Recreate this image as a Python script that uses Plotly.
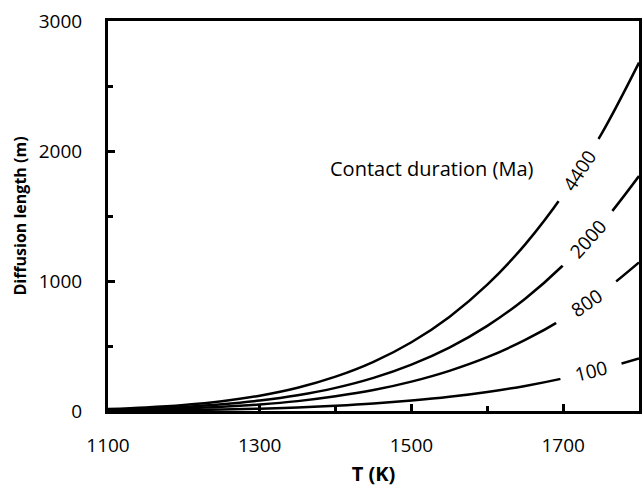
import plotly.graph_objects as go

# Temperature (K)
T = [1100, 1150, 1200, 1250, 1300, 1350, 1400, 1450, 1500, 1550, 1600, 1650, 1700, 1750, 1800]

# Diffusion length (m) for each contact duration (Ma)
L_4400 = [15, 27, 46, 75, 118, 179, 264, 378, 529, 724, 972, 1282, 1663, 2126, 2680]
L_2000 = [10, 18, 31, 51, 80, 121, 178, 255, 357, 488, 655, 864, 1121, 1433, 1807]
L_800 = [6, 12, 20, 32, 50, 76, 113, 161, 226, 309, 414, 547, 709, 906, 1143]
L_100 = [2, 4, 7, 11, 18, 27, 40, 57, 80, 109, 147, 193, 251, 321, 404]

series = [("4400", L_4400), ("2000", L_2000), ("800", L_800), ("100", L_100)]

# label positions (T, L, angle) along each curve
label_T = [1721, 1733, 1731, 1737]
label_L = [1847, 1320, 827, 305]
label_angle = [-57, -48, -35, -14]
label_pad = [3, 3, 4, 3]

FONT = "Open Sans"

fig = go.Figure()
for name, ys in series:
    fig.add_trace(go.Scatter(x=T, y=ys, mode="lines", name=name,
                             line=dict(color="black", width=2.5, shape="spline"),
                             showlegend=False, hoverinfo="skip"))

for (name, _), tx, ty, ang, pad in zip(series, label_T, label_L, label_angle, label_pad):
    sp = "\u00a0" * pad
    fig.add_annotation(x=tx, y=ty, text=sp + name + sp, showarrow=False,
                       textangle=ang, bgcolor="white", borderpad=0,
                       xanchor="center", yanchor="middle",
                       font=dict(family=FONT, size=19, color="black"))

fig.add_annotation(x=1527, y=1862, text="Contact duration (Ma)", showarrow=False,
                   xanchor="center", yanchor="middle",
                   font=dict(family=FONT, size=20, color="black"))

fig.update_layout(
    width=643, height=489,
    margin=dict(l=108, r=1, t=21, b=78),
    plot_bgcolor="white", paper_bgcolor="white",
    font=dict(family=FONT, size=19, color="black"),
    xaxis=dict(range=[1100, 1800], tick0=1100, dtick=200,
               ticks="inside", ticklen=7, tickwidth=2.5, tickcolor="black",
               minor=dict(tick0=1100, dtick=100, ticks="inside", ticklen=5, tickwidth=2.5, tickcolor="black"),
               showline=True, linewidth=3, linecolor="black", mirror=True,
               showgrid=False, zeroline=False,
               tickfont=dict(family=FONT, size=19),
               ticklabelstandoff=15,
               title=dict(text="<b>T (K)</b>", font=dict(family=FONT, size=20), standoff=11)),
    yaxis=dict(range=[0, 3000], tick0=0, dtick=1000,
               ticks="inside", ticklen=7, tickwidth=2.5, tickcolor="black",
               minor=dict(tick0=0, dtick=500, ticks="inside", ticklen=5, tickwidth=2.5, tickcolor="black"),
               showline=True, linewidth=3, linecolor="black", mirror=True,
               showgrid=False, zeroline=False,
               tickfont=dict(family=FONT, size=19),
               ticklabelstandoff=19,
               title=dict(text="<b>Diffusion length (m)</b>", font=dict(family=FONT, size=16), standoff=9)),
)

fig.write_html("out.html")
